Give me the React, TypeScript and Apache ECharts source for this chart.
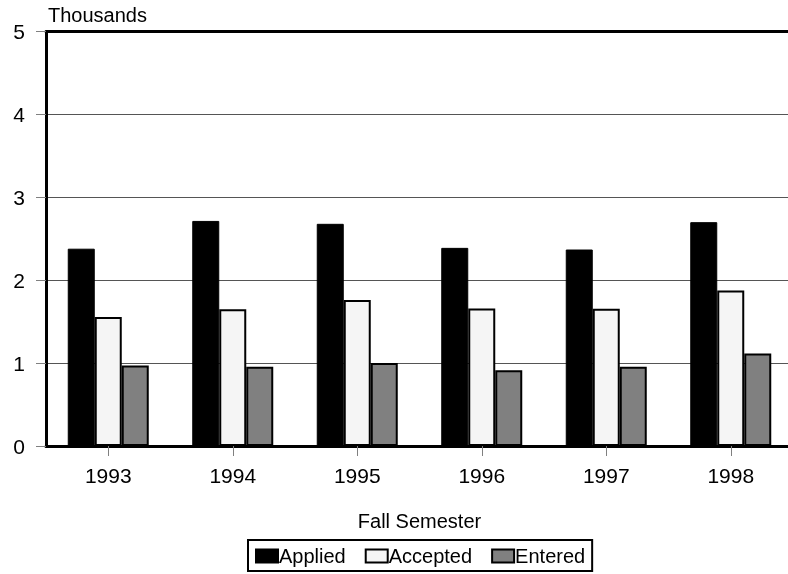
import React, { useEffect, useRef } from "react";
import * as echarts from "echarts";

const years = ["1993", "1994", "1995", "1996", "1997", "1998"];
const applied = [2.38, 2.715, 2.68, 2.39, 2.37, 2.7];
const accepted = [1.555, 1.65, 1.76, 1.66, 1.655, 1.875];
const entered = [0.97, 0.955, 1.0, 0.915, 0.955, 1.117];

const FONT = "Liberation Sans, Arial, sans-serif";

export default function App() {
  const ref = useRef<HTMLDivElement>(null);
  useEffect(() => {
    if (!ref.current) return;
    const chart = echarts.init(ref.current, undefined, { renderer: "svg" });
    chart.setOption({
      animation: false,
      textStyle: { fontFamily: FONT, color: "#000" },
      grid: {
        left: 46,
        right: 0,
        top: 31.5,
        bottom: 128,
        show: false,
      },
      legend: {
        left: 248,
        top: 540,
        orient: "horizontal",
        icon: "rect",
        itemWidth: 22,
        itemHeight: 13,
        itemGap: 19,
        padding: [6, 7, 5, 7],
        borderColor: "#000",
        borderWidth: 2,
        textStyle: { fontFamily: FONT, fontSize: 20, lineHeight: 20, color: "#000", padding: [0, 0, 0, -4] },
        data: ["Applied", "Accepted", "Entered"],
      },
      xAxis: [
        {
          type: "category",
          data: years,
          name: "Fall Semester",
          nameLocation: "middle",
          nameGap: 65,
          nameTextStyle: { fontFamily: FONT, fontSize: 20, color: "#000" },
          axisLine: { show: true, lineStyle: { color: "#000", width: 3 } },
          axisTick: { show: true, alignWithLabel: true, length: 10, lineStyle: { color: "#808080", width: 1 } },
          axisLabel: { fontFamily: FONT, fontSize: 21, color: "#000", margin: 19 },
        },
        {
          type: "category",
          data: years,
          position: "top",
          axisLine: { show: true, lineStyle: { color: "#000", width: 3 } },
          axisTick: { show: false },
          axisLabel: { show: false },
        },
      ],
      yAxis: {
        type: "value",
        min: 0,
        max: 5,
        interval: 1,
        name: "Thousands",
        nameLocation: "end",
        nameGap: 7,
        nameTextStyle: { fontFamily: FONT, fontSize: 20, color: "#000", align: "left", padding: [0, 0, 0, 2] },
        axisLine: { show: true, lineStyle: { color: "#000", width: 3 } },
        axisTick: { show: true, length: 10, lineStyle: { color: "#808080", width: 1 } },
        axisLabel: { fontFamily: FONT, fontSize: 21, color: "#000", margin: 21 },
        splitLine: { show: true, lineStyle: { color: "#555", width: 1 } },
      },
      series: [
        {
          name: "Applied",
          type: "bar",
          data: applied,
          barWidth: 27,
          barGap: "0%",
          itemStyle: { color: "#000", borderColor: "#000", borderWidth: 1 },
        },
        {
          name: "Accepted",
          type: "bar",
          data: accepted,
          barWidth: 27,
          barGap: "0%",
          itemStyle: { color: "#f5f5f5", borderColor: "#000", borderWidth: 2 },
        },
        {
          name: "Entered",
          type: "bar",
          data: entered,
          barWidth: 27,
          barGap: "0%",
          itemStyle: { color: "#808080", borderColor: "#000", borderWidth: 2 },
        },
      ],
    });
    return () => chart.dispose();
  }, []);
  return (
    <div style={{ position: "fixed", left: 0, top: 0, width: 788, height: 574, overflow: "hidden" }}>
      <div ref={ref} style={{ width: 793, height: 574 }} />
    </div>
  );
}
